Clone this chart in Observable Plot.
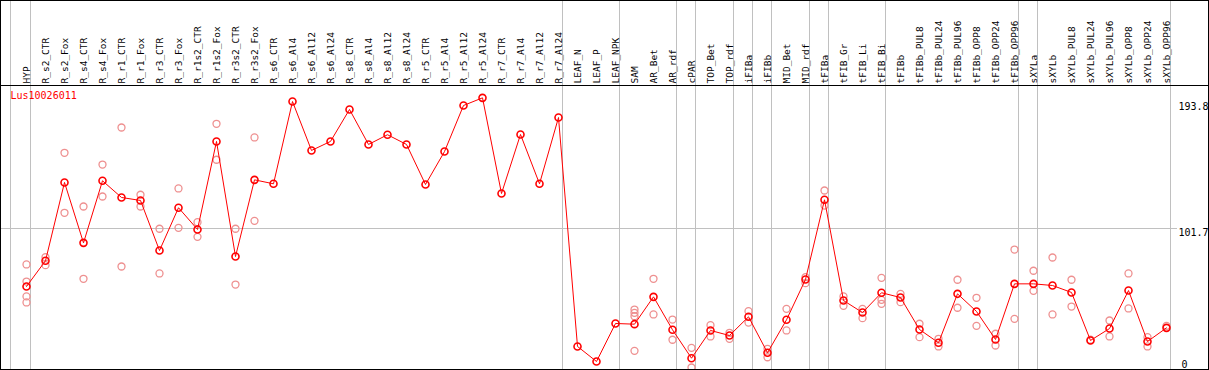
<!DOCTYPE html>
<html><head><meta charset="utf-8">
<script src="https://cdn.jsdelivr.net/npm/d3@7"></script>
<script src="https://cdn.jsdelivr.net/npm/@observablehq/plot@0.6"></script>
<style>html,body{margin:0;padding:0;background:#fff;} svg{display:block;}</style>
</head><body><div id="chart"></div>
<script>
const categories = ["HYP","R_s2_CTR","R_s2_Fox","R_s4_CTR","R_s4_Fox","R_r1_CTR","R_r1_Fox","R_r3_CTR","R_r3_Fox","R_r1s2_CTR","R_r1s2_Fox","R_r3s2_CTR","R_r3s2_Fox","R_s6_CTR","R_s6_Al4","R_s6_Al12","R_s6_Al24","R_s8_CTR","R_s8_Al4","R_s8_Al12","R_s8_Al24","R_r5_CTR","R_r5_Al4","R_r5_Al12","R_r5_Al24","R_r7_CTR","R_r7_Al4","R_r7_Al12","R_r7_Al24","LEAF_N","LEAF_P","LEAF_NPK","SAM","AR_Bet","AR_rdf","cPAR","TOP_Bet","TOP_rdf","iFIBa","iFIBb","MID_Bet","MID_rdf","tFIBa","tFIB_Gr","tFIB_Li","tFIB_Bi","tFIBb","tFIBb_PUL8","tFIBb_PUL24","tFIBb_PUL96","tFIBb_OPP8","tFIBb_OPP24","tFIBb_OPP96","sXYLa","sXYLb","sXYLb_PUL8","sXYLb_PUL24","sXYLb_PUL96","sXYLb_OPP8","sXYLb_OPP24","sXYLb_OPP96"];

const means = [59.3,78.1,135.4,91.2,136.6,124.4,122.2,85.6,116.9,101.0,165.4,81.2,137.3,134.4,194.6,158.8,165.4,188.8,163.2,170.3,163.2,133.9,158.0,191.7,197.3,127.3,170.5,134.4,182.9,15.4,4.4,32.2,31.7,51.7,27.6,6.8,27.1,23.4,37.1,10.8,34.9,64.4,122.7,49.0,40.2,54.7,51.2,27.8,18.1,53.9,41.0,20.5,61.2,61.2,60.0,54.9,19.8,28.5,56.3,19.0,29.0];

const replicates = [
  [75.4,62.9,52.0,47.6],[80.7,74.9],[157.1,113.2],[117.8,64.9],[148.5,125.1],[175.6,73.9],[126.4,117.8],[101.5,68.8],[131.0,102.2],[106.3,95.6],[178.3,152.0],[101.5,60.7],[168.3,107.3],
  [],[],[],[],[],[],[],[],[],[],[],[],[],[],[],[],
  [],[],[],
  [42.4,40.0,37.5,12.2],[64.9,38.8],[35.1,20.3],[14.4,0],[31.0,22.7],[25.4,21.0],[41.2,32.9],[13.7,7.5],[42.9,27.1],[66.1,61.7],[129.5,118.5],[52.0,45.1],[42.9,36.1],[65.6,49.5,46.6],[53.9,47.8],[32.0,22.2],[21.0,15.4],[64.2,43.7],[51.0,30.5],[24.7,16.1],[86.3,35.6],[70.8,56.1],[80.5,38.8],[64.2,44.6],[20.3],[34.4,22.7],[68.8,43.2],[22.2,15.4],[30.5]
];

const groupEnds = ["HYP","R_r7_Al24","LEAF_NPK","AR_rdf","cPAR","TOP_rdf","iFIBa","iFIBb","MID_rdf","tFIBa","tFIB_Bi","tFIBb_OPP96","sXYLa","sXYLb_OPP96"];
const geneName = "Lus10026011";
const yTickValues = [193.8, 101.7];
const yZeroTick = [0];

const meanData = categories.map((c, i) => ({cat: c, v: means[i]}));
const repData = categories.flatMap((c, i) => replicates[i].map(v => ({cat: c, v})));

const mono = "DejaVu Sans Mono, Liberation Mono, monospace";
const W = 1209, H = 370;

const chart = Plot.plot({
  width: W, height: H,
  marginTop: 0, marginBottom: 1, marginLeft: 1, marginRight: 32,
  style: {fontFamily: mono, background: "#fff", overflow: "visible"},
  x: {type: "point", domain: categories, range: [26, 1166], padding: 0, axis: null},
  y: {type: "linear", domain: [0, 101.7], range: [367, 228], axis: null},
  marks: [
    Plot.ruleY([101.7], {stroke: "#c0c0c0", strokeWidth: 1}),
    Plot.ruleX(groupEnds, {x: d => d, dx: 4, stroke: "#c0c0c0", strokeWidth: 1}),
    Plot.ruleX(["HYP"], {x: d => d, dx: -16, stroke: "#c0c0c0", strokeWidth: 1}),
    Plot.text(categories, {x: d => d, frameAnchor: "top", dy: 83, rotate: -90, textAnchor: "start", lineAnchor: "middle", fontSize: 9.5, fill: "#000", fontFamily: mono}),
    Plot.text([geneName], {frameAnchor: "top-left", dx: 9, dy: 91, textAnchor: "start", lineAnchor: "top", fill: "#ff0000", fontSize: 10, fontFamily: mono}),
    Plot.text(yTickValues, {y: d => d, frameAnchor: "right", dx: 1, textAnchor: "start", lineAnchor: "top", text: d => d.toFixed(1), fill: "#000", fontSize: 10, fontFamily: mono}),
    Plot.text(yZeroTick, {y: d => d, frameAnchor: "right", dx: 4, textAnchor: "start", lineAnchor: "bottom", text: d => String(d), fill: "#000", fontSize: 10, fontFamily: mono}),
    Plot.dot(repData, {x: "cat", y: "v", r: 3.5, stroke: "#ee9090", strokeWidth: 1.3, fill: "none"}),
    Plot.line(meanData, {x: "cat", y: "v", stroke: "#ff0000", strokeWidth: 1}),
    Plot.dot(meanData, {x: "cat", y: "v", r: 3.5, stroke: "#ff0000", strokeWidth: 1.6, fill: "none"})
  ]
});

// frame decorations: outer border and separator beneath the label band
const svg = d3.select(chart);
svg.append("line").attr("x1", 0).attr("x2", W).attr("y1", 85.5).attr("y2", 85.5).attr("stroke", "#000").attr("stroke-width", 1);
svg.append("rect").attr("x", 0.5).attr("y", 0.5).attr("width", W - 1).attr("height", H - 1).attr("fill", "none").attr("stroke", "#000").attr("stroke-width", 1);

document.getElementById("chart").appendChild(chart);
</script>
</body></html>
